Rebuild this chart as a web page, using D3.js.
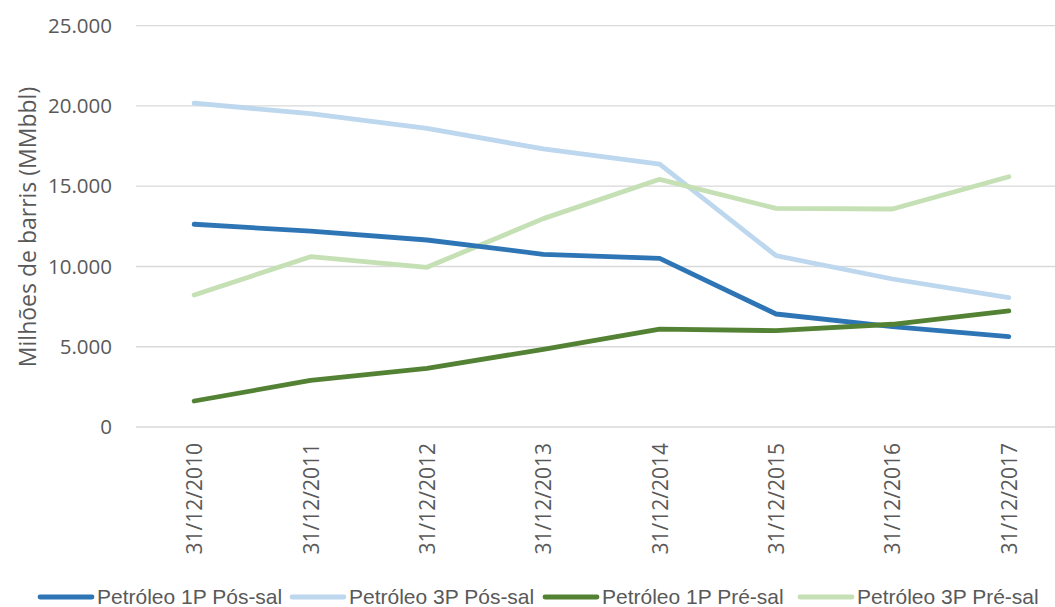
<!DOCTYPE html>
<html>
<head>
<meta charset="utf-8">
<script src="https://cdn.jsdelivr.net/npm/d3@7"></script>
<style>
  body { margin: 0; background: #fff; }
  svg { display: block; }
</style>
</head>
<body>
<svg id="chart" width="1055" height="607"></svg>
<script>
// Reservas de petróleo (milhões de barris) por data de referência
const categories = ["31/12/2010", "31/12/2011", "31/12/2012", "31/12/2013",
                    "31/12/2014", "31/12/2015", "31/12/2016", "31/12/2017"];
const pos1P = [12630, 12200, 11650, 10760, 10510, 7040, 6250, 5630];
const pos3P = [20170, 19520, 18610, 17320, 16380, 10670, 9220, 8060];
const pre1P = [1620, 2900, 3650, 4840, 6100, 6000, 6400, 7230];
const pre3P = [8220, 10610, 9950, 12980, 15430, 13620, 13580, 15590];
const seriesNames = ["Petróleo 1P Pós-sal", "Petróleo 3P Pós-sal",
                     "Petróleo 1P Pré-sal", "Petróleo 3P Pré-sal"];
const yTicks = [0, 5000, 10000, 15000, 20000, 25000];
const yTitle = "Milhões de barris (MMbbl)";

const colors = ["#2E75B6", "#BDD7EE", "#548235", "#C5E0B4"];
const seriesValues = [pos1P, pos3P, pre1P, pre3P];
const drawOrder = [1, 3, 0, 2];

const svg = d3.select("#chart");
const font = "'Open Sans', 'Liberation Sans', sans-serif";
const plotLeft = 136, plotRight = 1067, plotTop = 25.7, plotBottom = 427;

const x = d3.scaleBand().domain(categories).range([plotLeft, plotRight]);
const y = d3.scaleLinear().domain([0, 25000]).range([plotBottom, plotTop]);
const fmt = v => v === 0 ? "0" : d3.format(",")(v).replace(/,/g, ".");

// horizontal gridlines
svg.append("g")
  .selectAll("line")
  .data(yTicks)
  .join("line")
  .attr("x1", plotLeft).attr("x2", 1055)
  .attr("y1", d => y(d)).attr("y2", d => y(d))
  .attr("stroke", "#D9D9D9").attr("stroke-width", 1.3);

// y axis labels
const yAxis = d3.axisLeft(y).tickValues(yTicks).tickFormat(fmt).tickSize(0).tickPadding(0);
const gy = svg.append("g").attr("transform", `translate(112,0)`).call(yAxis);
gy.select(".domain").remove();
gy.selectAll("text")
  .attr("font-family", font).attr("font-size", 20.5).attr("fill", "#595959");

// y axis title
svg.append("text")
  .attr("transform", `translate(36,227) rotate(-90)`)
  .attr("text-anchor", "middle")
  .attr("font-family", font).attr("font-size", 23).attr("fill", "#595959")
  .text(yTitle);

// x axis labels, rotated
const xAxis = d3.axisBottom(x).tickSize(0).tickPadding(0);
const gx = svg.append("g").attr("transform", `translate(0,${plotBottom})`).call(xAxis);
gx.select(".domain").remove();
gx.selectAll("text")
  .attr("font-family", font).attr("font-size", 21).attr("fill", "#595959")
  .attr("text-anchor", "end")
  .attr("dy", null)
  .attr("transform", "translate(8,16) rotate(-90)");

// series lines
const line = d3.line()
  .x((d, i) => x(categories[i]) + x.bandwidth() / 2)
  .y(d => y(d));

svg.append("g")
  .selectAll("path")
  .data(drawOrder)
  .join("path")
  .attr("d", k => line(seriesValues[k]))
  .attr("fill", "none")
  .attr("stroke", k => colors[k])
  .attr("stroke-width", 4.8)
  .attr("stroke-linejoin", "round")
  .attr("stroke-linecap", "round");

// legend
const legendX = [40, 292, 545, 800];
const lg = svg.append("g");
seriesNames.forEach((name, i) => {
  lg.append("line")
    .attr("x1", legendX[i]).attr("x2", legendX[i] + 52)
    .attr("y1", 597).attr("y2", 597)
    .attr("stroke", colors[i]).attr("stroke-width", 4.8)
    .attr("stroke-linecap", "round");
  lg.append("text")
    .attr("x", legendX[i] + 57).attr("y", 604)
    .attr("font-family", "'Liberation Sans', sans-serif")
    .attr("font-size", 21).attr("fill", "#595959")
    .text(name);
});
</script>
</body>
</html>
